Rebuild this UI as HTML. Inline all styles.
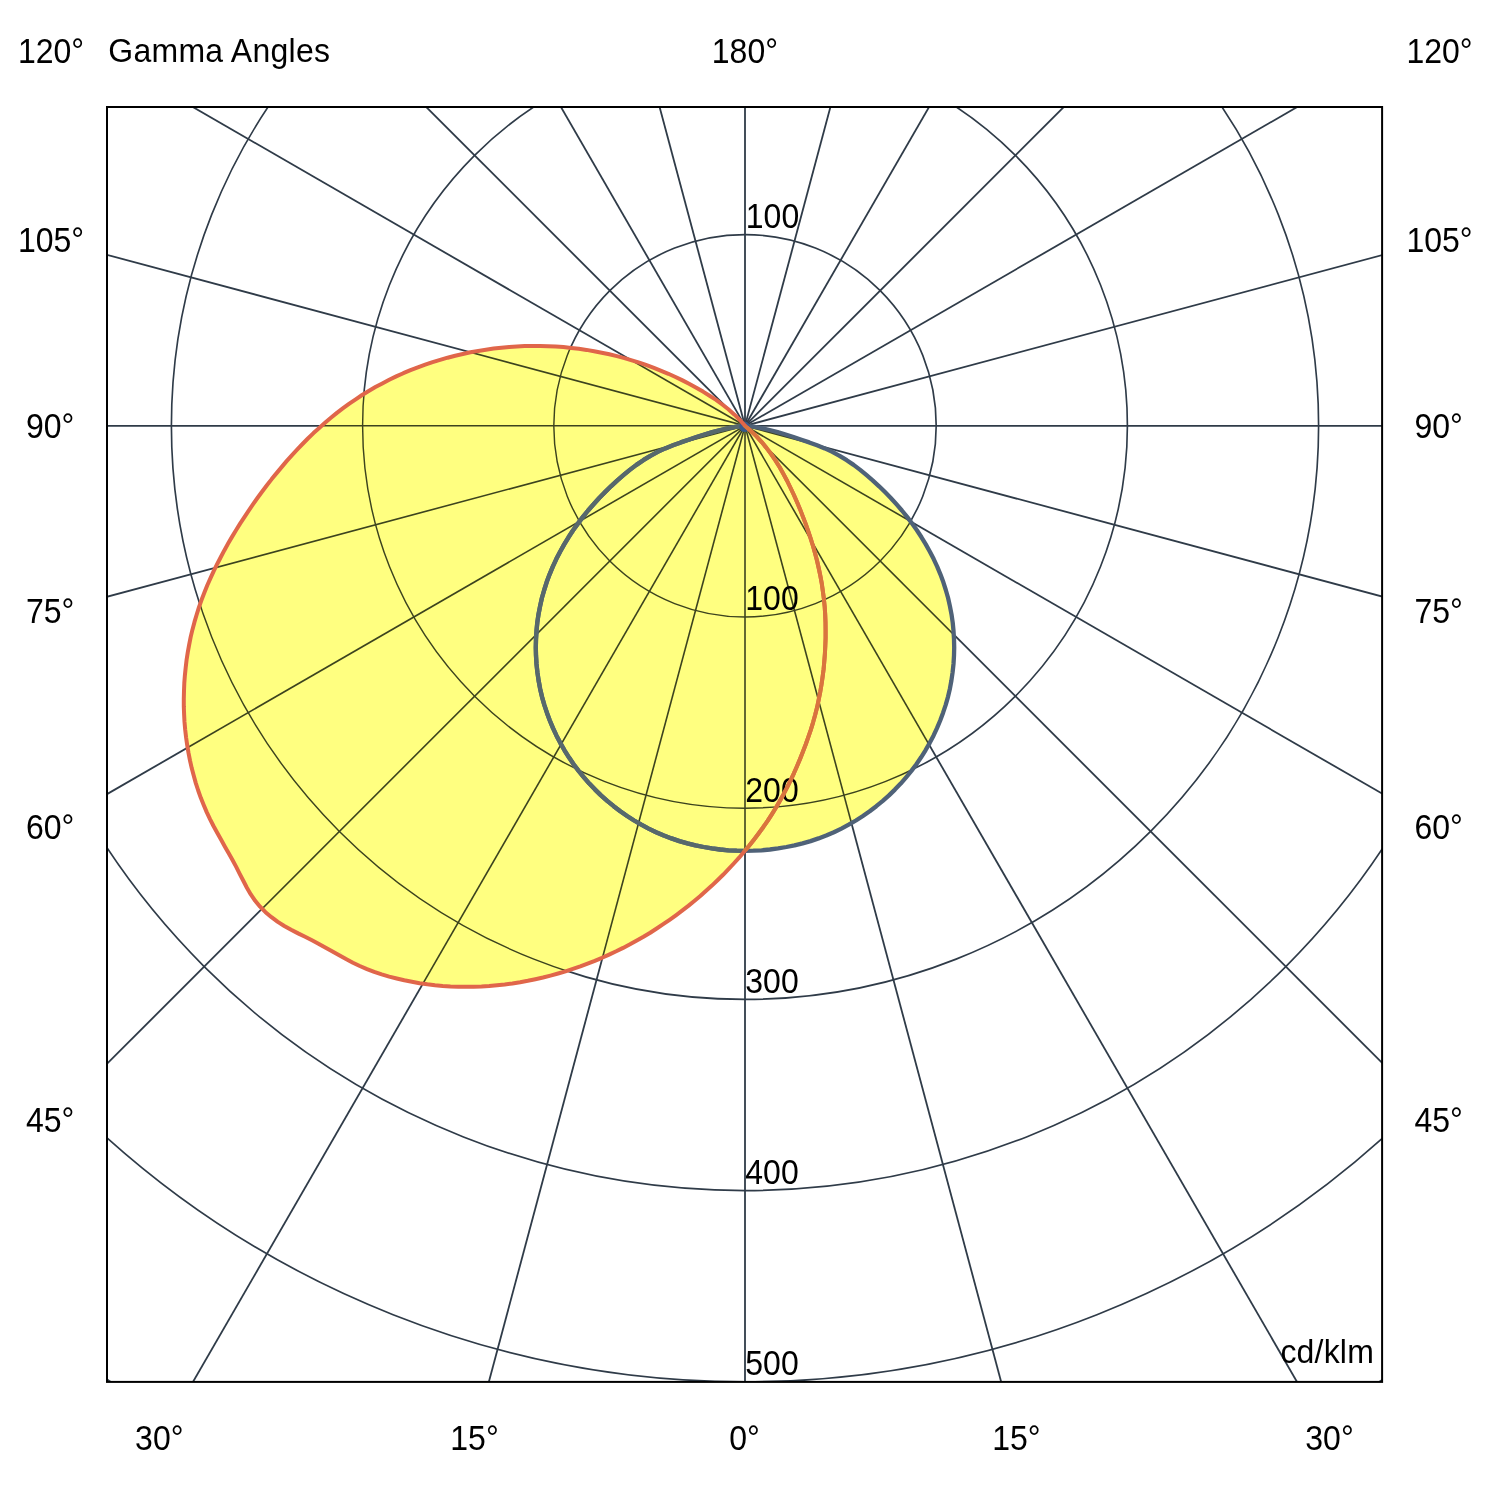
<!DOCTYPE html>
<html><head><meta charset="utf-8"><title>Gamma Angles</title>
<style>html,body{margin:0;padding:0;background:#fff}svg{display:block}text{font-family:"Liberation Sans",Arial,sans-serif;font-size:32px;fill:#000}</style></head><body>
<svg width="1490" height="1490" viewBox="0 0 1490 1490">
<rect width="1490" height="1490" fill="#fff"/>
<defs><path id="r" d="M745.0 425.8 L739.8 419.9 L734.2 414.4 L728.4 409.3 L722.3 404.5 L716.1 399.9 L709.6 395.7 L703.0 391.6 L696.3 387.7 L689.5 384.0 L682.5 380.4 L675.5 377.0 L668.4 373.8 L661.2 370.8 L653.9 367.9 L646.6 365.2 L639.3 362.6 L631.8 360.3 L624.4 358.1 L616.9 356.1 L609.3 354.3 L601.7 352.7 L594.1 351.2 L586.5 349.9 L578.8 348.8 L571.1 347.9 L563.4 347.1 L555.7 346.6 L548.0 346.2 L540.2 346.0 L532.5 346.0 L524.7 346.1 L516.9 346.5 L509.2 347.0 L501.4 347.7 L493.6 348.6 L485.9 349.7 L478.2 350.9 L470.5 352.3 L462.8 354.0 L455.2 355.7 L447.6 357.7 L440.1 359.9 L432.6 362.2 L425.2 364.7 L417.8 367.4 L410.5 370.2 L403.3 373.2 L396.2 376.4 L389.2 379.8 L382.3 383.4 L375.4 387.1 L368.7 391.0 L362.1 395.0 L355.7 399.3 L349.3 403.7 L343.1 408.2 L336.9 412.9 L330.9 417.8 L325.0 422.8 L319.2 427.9 L313.5 433.1 L307.9 438.5 L302.5 444.0 L297.1 449.6 L291.8 455.3 L286.6 461.1 L281.6 467.1 L276.6 473.1 L271.7 479.1 L266.9 485.3 L262.2 491.5 L257.6 497.8 L253.1 504.2 L248.7 510.6 L244.4 517.1 L240.1 523.6 L236.0 530.2 L232.0 536.9 L228.1 543.6 L224.3 550.4 L220.7 557.3 L217.1 564.2 L213.7 571.2 L210.5 578.2 L207.3 585.3 L204.4 592.5 L201.6 599.8 L199.0 607.1 L196.7 614.5 L194.5 621.9 L192.5 629.4 L190.7 636.9 L189.2 644.5 L187.8 652.1 L186.6 659.8 L185.7 667.5 L184.9 675.2 L184.3 683.0 L184.0 690.8 L183.8 698.6 L183.8 706.4 L184.1 714.2 L184.5 721.9 L185.2 729.7 L186.1 737.5 L187.2 745.2 L188.5 752.9 L190.0 760.5 L191.7 768.1 L193.7 775.6 L195.8 783.1 L198.2 790.5 L200.8 797.8 L203.7 805.0 L206.7 812.1 L210.0 819.1 L213.5 826.0 L217.2 832.8 L221.0 839.6 L224.8 846.4 L228.7 853.2 L232.5 860.0 L236.2 866.9 L239.7 873.9 L243.3 880.8 L246.9 887.7 L250.8 894.4 L255.2 900.8 L260.1 906.7 L265.5 912.2 L271.5 917.2 L277.8 921.9 L284.3 926.0 L291.1 929.8 L298.1 933.4 L305.1 936.8 L312.0 940.3 L318.9 943.9 L325.7 947.7 L332.5 951.5 L339.2 955.3 L346.0 959.1 L352.9 962.7 L359.8 966.0 L367.0 969.1 L374.2 971.9 L381.7 974.4 L389.2 976.6 L396.7 978.5 L404.3 980.3 L411.9 981.8 L419.6 983.2 L427.3 984.3 L435.0 985.2 L442.7 985.9 L450.5 986.4 L458.2 986.7 L466.0 986.8 L473.7 986.7 L481.5 986.4 L489.2 985.9 L497.0 985.2 L504.7 984.4 L512.4 983.4 L520.1 982.2 L527.8 980.8 L535.4 979.2 L543.0 977.5 L550.5 975.6 L558.1 973.5 L565.5 971.3 L572.9 968.9 L580.3 966.4 L587.6 963.6 L594.8 960.8 L602.0 957.8 L609.1 954.6 L616.2 951.3 L623.1 947.9 L630.0 944.3 L636.8 940.5 L643.5 936.7 L650.2 932.7 L656.7 928.5 L663.2 924.2 L669.6 919.8 L675.9 915.3 L682.1 910.7 L688.3 905.9 L694.3 901.0 L700.3 896.0 L706.1 890.8 L711.9 885.6 L717.5 880.2 L723.1 874.8 L728.5 869.2 L733.8 863.5 L739.1 857.7 L744.1 851.8 L749.1 845.8 L753.9 839.7 L758.6 833.5 L763.2 827.2 L767.6 820.8 L771.8 814.3 L775.9 807.7 L779.8 801.0 L783.6 794.2 L787.1 787.3 L790.6 780.4 L793.9 773.3 L797.0 766.2 L800.0 759.1 L802.9 751.8 L805.7 744.5 L808.3 737.2 L810.8 729.8 L813.1 722.3 L815.2 714.8 L817.1 707.3 L818.7 699.7 L820.2 692.1 L821.5 684.5 L822.6 676.9 L823.6 669.2 L824.3 661.4 L824.9 653.7 L825.3 645.9 L825.6 638.1 L825.6 630.2 L825.5 622.4 L825.2 614.6 L824.7 606.9 L823.9 599.1 L822.9 591.4 L821.8 583.7 L820.4 576.1 L818.8 568.5 L817.1 561.0 L815.1 553.5 L813.0 546.0 L810.7 538.6 L808.3 531.3 L805.7 523.9 L802.9 516.6 L800.1 509.4 L797.1 502.2 L793.9 495.0 L790.6 488.0 L787.2 481.0 L783.5 474.1 L779.7 467.3 L775.6 460.7 L771.3 454.3 L766.6 448.1 L761.7 442.1 L756.5 436.4 L750.9 431.0 L745.0 425.8Z"/><path id="g" d="M745.0 425.8 L736.7 426.7 L728.5 428.2 L720.4 430.0 L712.4 432.1 L704.4 434.5 L696.5 437.0 L688.6 439.7 L680.8 442.4 L673.0 445.3 L665.2 448.4 L657.7 451.9 L650.4 455.8 L643.3 460.2 L636.4 464.9 L629.8 469.9 L623.4 475.2 L617.1 480.6 L610.9 486.3 L605.0 492.1 L599.2 498.0 L593.6 504.2 L588.1 510.5 L582.9 516.9 L577.9 523.6 L573.1 530.3 L568.5 537.3 L564.2 544.4 L560.1 551.7 L556.3 559.1 L552.8 566.6 L549.6 574.3 L546.7 582.1 L544.2 590.0 L541.9 598.0 L540.1 606.1 L538.5 614.3 L537.3 622.5 L536.5 630.8 L536.0 639.1 L535.8 647.4 L536.0 655.7 L536.5 664.0 L537.4 672.3 L538.6 680.5 L540.1 688.7 L542.0 696.8 L544.3 704.8 L546.9 712.7 L549.8 720.5 L553.0 728.2 L556.5 735.7 L560.4 743.1 L564.5 750.3 L568.9 757.3 L573.6 764.2 L578.6 770.9 L583.9 777.3 L589.3 783.6 L595.1 789.6 L601.0 795.4 L607.2 800.9 L613.7 806.2 L620.3 811.3 L627.1 816.0 L634.1 820.5 L641.3 824.7 L648.6 828.6 L656.1 832.2 L663.8 835.5 L671.5 838.4 L679.4 841.1 L687.4 843.4 L695.5 845.4 L703.6 847.0 L711.9 848.4 L720.1 849.5 L728.4 850.3 L736.7 850.7 L745.0 850.9 L753.3 850.7 L761.6 850.3 L769.9 849.5 L778.1 848.4 L786.4 847.0 L794.5 845.4 L802.6 843.4 L810.6 841.1 L818.5 838.4 L826.2 835.5 L833.9 832.2 L841.4 828.6 L848.7 824.7 L855.9 820.5 L862.9 816.0 L869.7 811.3 L876.3 806.2 L882.8 800.9 L889.0 795.4 L894.9 789.6 L900.7 783.6 L906.1 777.3 L911.4 770.9 L916.4 764.2 L921.1 757.3 L925.5 750.3 L929.6 743.1 L933.5 735.7 L937.0 728.2 L940.2 720.5 L943.1 712.7 L945.7 704.8 L948.0 696.8 L949.9 688.7 L951.4 680.5 L952.6 672.3 L953.5 664.0 L954.0 655.7 L954.2 647.4 L954.0 639.1 L953.5 630.8 L952.7 622.5 L951.5 614.3 L949.9 606.1 L948.1 598.0 L945.8 590.0 L943.3 582.1 L940.4 574.3 L937.2 566.6 L933.7 559.1 L929.9 551.7 L925.8 544.4 L921.5 537.3 L916.9 530.3 L912.1 523.6 L907.1 516.9 L901.9 510.5 L896.4 504.2 L890.8 498.0 L885.0 492.1 L879.1 486.3 L872.9 480.6 L866.6 475.2 L860.2 469.9 L853.6 464.9 L846.7 460.2 L839.6 455.8 L832.3 451.9 L824.8 448.4 L817.0 445.3 L809.2 442.4 L801.4 439.7 L793.5 437.0 L785.6 434.5 L777.6 432.1 L769.6 430.0 L761.5 428.2 L753.3 426.7 L745.0 425.8Z"/>
<clipPath id="cr"><use href="#r"/></clipPath><clipPath id="cg"><use href="#g"/></clipPath></defs>
<defs><clipPath id="y"><use href="#r"/><use href="#g"/></clipPath></defs>
<defs><clipPath id="c"><rect x="107.0" y="107.0" width="1275.1" height="1274.9"/></clipPath></defs>
<g clip-path="url(#c)">
<g fill="none" stroke="#2f3b48" stroke-width="1.8">
<circle cx="745.0" cy="425.8" r="191.2" stroke-width="1.6500000000000001"/>
<circle cx="745.0" cy="425.8" r="382.4" stroke-width="1.6500000000000001"/>
<circle cx="745.0" cy="425.8" r="573.6" stroke-width="1.6500000000000001"/>
<circle cx="745.0" cy="425.8" r="764.8" stroke-width="1.6500000000000001"/>
<circle cx="745.0" cy="425.8" r="956.0" stroke-width="1.6500000000000001"/>
<circle cx="745.0" cy="425.8" r="1147.2" stroke-width="1.6500000000000001"/>
<line x1="745.0" y1="-1074.2" x2="745.0" y2="1925.8"/>
<line x1="356.8" y1="-1023.1" x2="1133.2" y2="1874.7"/>
<line x1="-5.0" y1="-873.2" x2="1495.0" y2="1724.8"/>
<line x1="-315.7" y1="-634.9" x2="1805.7" y2="1486.5"/>
<line x1="-554.0" y1="-324.2" x2="2044.0" y2="1175.8"/>
<line x1="-703.9" y1="37.6" x2="2193.9" y2="814.0"/>
<line x1="-755.0" y1="425.8" x2="2245.0" y2="425.8"/>
<line x1="-703.9" y1="814.0" x2="2193.9" y2="37.6"/>
<line x1="-554.0" y1="1175.8" x2="2044.0" y2="-324.2"/>
<line x1="-315.7" y1="1486.5" x2="1805.7" y2="-634.9"/>
<line x1="-5.0" y1="1724.8" x2="1495.0" y2="-873.2"/>
<line x1="356.8" y1="1874.7" x2="1133.2" y2="-1023.1"/>
</g>
<use href="#r" fill="#ffff80"/>
<use href="#g" fill="#ffff80"/>
<g clip-path="url(#y)">
<g fill="none" stroke="#3c431e" stroke-width="1.6">
<circle cx="745.0" cy="425.8" r="191.2" stroke-width="1.4500000000000002"/>
<circle cx="745.0" cy="425.8" r="382.4" stroke-width="1.4500000000000002"/>
<circle cx="745.0" cy="425.8" r="573.6" stroke-width="1.4500000000000002"/>
<circle cx="745.0" cy="425.8" r="764.8" stroke-width="1.4500000000000002"/>
<circle cx="745.0" cy="425.8" r="956.0" stroke-width="1.4500000000000002"/>
<circle cx="745.0" cy="425.8" r="1147.2" stroke-width="1.4500000000000002"/>
<line x1="745.0" y1="-1074.2" x2="745.0" y2="1925.8"/>
<line x1="356.8" y1="-1023.1" x2="1133.2" y2="1874.7"/>
<line x1="-5.0" y1="-873.2" x2="1495.0" y2="1724.8"/>
<line x1="-315.7" y1="-634.9" x2="1805.7" y2="1486.5"/>
<line x1="-554.0" y1="-324.2" x2="2044.0" y2="1175.8"/>
<line x1="-703.9" y1="37.6" x2="2193.9" y2="814.0"/>
<line x1="-755.0" y1="425.8" x2="2245.0" y2="425.8"/>
<line x1="-703.9" y1="814.0" x2="2193.9" y2="37.6"/>
<line x1="-554.0" y1="1175.8" x2="2044.0" y2="-324.2"/>
<line x1="-315.7" y1="1486.5" x2="1805.7" y2="-634.9"/>
<line x1="-5.0" y1="1724.8" x2="1495.0" y2="-873.2"/>
<line x1="356.8" y1="1874.7" x2="1133.2" y2="-1023.1"/>
</g>
</g>
<text transform="translate(745.8 227.9) scale(1 1.08)" text-anchor="start">100</text>
<text transform="translate(745.3 610.4) scale(1 1.08)" text-anchor="start">100</text>
<text transform="translate(745.3 801.6) scale(1 1.08)" text-anchor="start">200</text>
<text transform="translate(745.3 992.8) scale(1 1.08)" text-anchor="start">300</text>
<text transform="translate(745.3 1184.0) scale(1 1.08)" text-anchor="start">400</text>
<text transform="translate(745.3 1375.2) scale(1 1.08)" text-anchor="start">500</text>
<text transform="translate(1280.4 1362.6) scale(1 1.02)" text-anchor="start" letter-spacing="0.2">cd/klm</text>
<use href="#g" fill="none" stroke="#4f6278" stroke-width="4.3" stroke-linejoin="round"/>
<g clip-path="url(#cr)"><use href="#g" fill="none" stroke="#57686c" stroke-width="4.3" stroke-linejoin="round"/></g>
<circle cx="744.6" cy="426.8" r="5.2" fill="#36598a"/>
<use href="#r" fill="none" stroke="#e0664a" stroke-width="4" stroke-linejoin="round"/>
<g clip-path="url(#cg)"><use href="#r" fill="none" stroke="#d9743e" stroke-width="4" stroke-linejoin="round"/></g>
</g>
<rect x="107.0" y="107.0" width="1275.1" height="1274.9" fill="none" stroke="#000" stroke-width="2"/>
<text transform="translate(51.0 62.6) scale(1 1.08)" text-anchor="middle">120°</text>
<text transform="translate(1439.5 62.6) scale(1 1.08)" text-anchor="middle">120°</text>
<text transform="translate(51.0 251.8) scale(1 1.08)" text-anchor="middle">105°</text>
<text transform="translate(1439.5 251.8) scale(1 1.08)" text-anchor="middle">105°</text>
<text transform="translate(50.1 437.5) scale(1 1.08)" text-anchor="middle">90°</text>
<text transform="translate(1438.6 437.5) scale(1 1.08)" text-anchor="middle">90°</text>
<text transform="translate(50.1 623.4) scale(1 1.08)" text-anchor="middle">75°</text>
<text transform="translate(1438.6 623.4) scale(1 1.08)" text-anchor="middle">75°</text>
<text transform="translate(50.1 838.8) scale(1 1.08)" text-anchor="middle">60°</text>
<text transform="translate(1438.6 838.8) scale(1 1.08)" text-anchor="middle">60°</text>
<text transform="translate(50.1 1131.6) scale(1 1.08)" text-anchor="middle">45°</text>
<text transform="translate(1438.6 1131.6) scale(1 1.08)" text-anchor="middle">45°</text>
<text transform="translate(108.3 62.1) scale(1 1.035)" text-anchor="start" letter-spacing="0.28">Gamma Angles</text>
<text transform="translate(744.9 62.6) scale(1 1.08)" text-anchor="middle">180°</text>
<text transform="translate(159.3 1450.4) scale(1 1.08)" text-anchor="middle">30°</text>
<text transform="translate(474.5 1450.4) scale(1 1.08)" text-anchor="middle">15°</text>
<text transform="translate(744.6 1450.4) scale(1 1.08)" text-anchor="middle">0°</text>
<text transform="translate(1016.4 1450.4) scale(1 1.08)" text-anchor="middle">15°</text>
<text transform="translate(1329.5 1450.4) scale(1 1.08)" text-anchor="middle">30°</text>
</svg></body></html>
